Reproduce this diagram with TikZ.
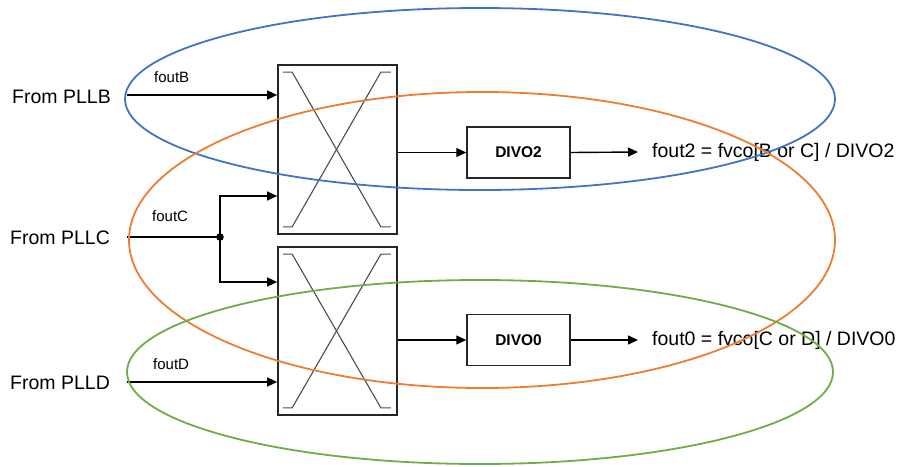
\documentclass[tikz,border=0pt]{standalone}
\usepackage{fontspec}
\setmainfont{Liberation Sans}
\usetikzlibrary{arrows.meta}
\definecolor{eblue}{HTML}{4472C4}
\definecolor{eorange}{HTML}{ED7D31}
\definecolor{egreen}{HTML}{70AD47}
\newcommand{\xbar}[1]{%
  \draw[black!70,line width=1.1pt]
    ([shift={(6pt,-8pt)}]#1.north west) -- ([shift={(15pt,-8pt)}]#1.north west)
    -- ([shift={(-17pt,8pt)}]#1.south east) -- ([shift={(-7pt,8pt)}]#1.south east);
  \draw[black!70,line width=1.1pt]
    ([shift={(-7pt,-8pt)}]#1.north east) -- ([shift={(-17pt,-8pt)}]#1.north east)
    -- ([shift={(15pt,8pt)}]#1.south west) -- ([shift={(6pt,8pt)}]#1.south west);
}
\begin{document}
\begin{tikzpicture}[x=1pt,y=-1pt,
  big/.style={font=\fontsize{19.5}{22}\selectfont, inner sep=0pt},
  small/.style={font=\fontsize{15}{17}\selectfont, inner sep=0pt},
  xbox/.style={draw, black!85, line width=1.7pt, minimum width=119pt, inner sep=0pt},
  divbox/.style={draw, black!85, text=black, line width=1.5pt, minimum width=103pt, minimum height=51pt,
    font=\bfseries\fontsize{15.5}{17}\selectfont},
  arr/.style={line width=1.4pt, -{Triangle[length=10pt,width=9pt]}},
  ell/.style={line width=1.8pt}]
\useasboundingbox (0,0) rectangle (901,466);

% crossbar boxes
\node[xbox, minimum height=169pt] (box1) at (337.5,149.5) {};
\node[xbox, minimum height=168pt] (box2) at (337.5,331) {};
\xbar{box1}
\xbar{box2}

% divider boxes
\node[divbox] (divo2) at (518.5,152.5) {DIVO2};
\node[divbox] (divo0) at (518.5,340) {DIVO0};

% input labels
\node[big, anchor=west] (pllb) at (12,97) {From PLLB};
\node[big, anchor=west] (pllc) at (10,238) {From PLLC};
\node[big, anchor=west] (plld) at (10,383) {From PLLD};
\node[small, anchor=west] (lb) at (154,77) {foutB};
\node[small, anchor=west] (lc) at (152,216) {foutC};
\node[small, anchor=west] (ld) at (153,364) {foutD};

% outputs
\node[big, anchor=west] (out2) at (652,152) {fout2 = fvco[B or C] / DIVO2};
\node[big, anchor=west] (out0) at (652,340) {fout0 = fvco[C or D] / DIVO0};

% coordinates
\coordinate (inB) at (127,95);
\coordinate (inC) at (127,237);
\coordinate (inD) at (127,382);
\coordinate (j) at (220,237);
\coordinate (yc1) at (0,196);
\coordinate (yc2) at (0,282);

% connectors
\draw[arr] (inB) -- (inB -| box1.west);
\draw[line width=1.4pt] (inC) -- (j);
\draw[arr] (j) |- (yc1 -| box1.west);
\draw[arr] (j) |- (yc2 -| box2.west);
\fill (j) circle[radius=3.8pt];
\draw[arr] (inD) -- (inD -| box2.west);

\draw[arr] (divo2.west -| box1.east) -- (divo2.west);
\draw[arr] (divo0.west -| box2.east) -- (divo0.west);
\draw[arr] (divo2.east) -- ([xshift=-14pt]out2.west);
\draw[arr] (divo0.east) -- ([xshift=-14pt]out0.west);

% ellipses
\draw[ell, eblue] (480,99) ellipse [x radius=355pt, y radius=91pt];
\draw[ell, eorange] (482,240) ellipse [x radius=353pt, y radius=148pt];
\draw[ell, egreen] (480,372) ellipse [x radius=353pt, y radius=92pt];
\end{tikzpicture}
\end{document}
